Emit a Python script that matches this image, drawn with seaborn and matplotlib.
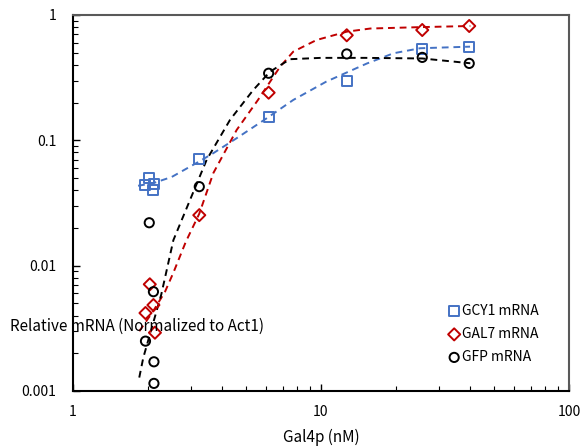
import matplotlib
matplotlib.use("Agg")
import matplotlib.pyplot as plt
import seaborn as sns
import pandas as pd
from matplotlib.ticker import LogLocator, NullFormatter, FixedLocator, FixedFormatter

# ---- data ----
gcy1_x = [2.03, 1.95, 2.12, 2.10, 3.23, 6.15, 12.7, 25.6, 39.6]
gcy1_y = [0.050, 0.044, 0.0448, 0.040, 0.071, 0.153, 0.297, 0.532, 0.558]

gal7_x = [2.04, 2.11, 1.96, 2.14, 3.23, 6.15, 12.7, 25.6, 39.6]
gal7_y = [0.0071, 0.00485, 0.00419, 0.00292, 0.0253, 0.240, 0.689, 0.759, 0.817]

gfp_x = [2.03, 2.11, 1.96, 2.12, 2.12, 3.23, 6.15, 12.7, 25.6, 39.6]
gfp_y = [0.0220, 0.0062, 0.0025, 0.00171, 0.00115, 0.0427, 0.343, 0.489, 0.459, 0.411]

# fitted (dashed) curves
gcy1_fit_x = [1.83, 2.11, 2.5, 3.15, 3.68, 4.57, 6.04, 7.73, 10.5, 15.3, 19.6, 25.1, 39.9]
gcy1_fit_y = [0.0434, 0.0456, 0.051, 0.066, 0.079, 0.104, 0.150, 0.210, 0.294, 0.41, 0.495, 0.543, 0.559]

gal7_fit_x = [1.85, 2.1, 2.35, 2.54, 2.85, 3.23, 3.68, 4.57, 5.57, 6.84, 7.73, 9.6, 12.7, 15.8, 25.0, 40.0]
gal7_fit_y = [0.0030, 0.0043, 0.0062, 0.0088, 0.0155, 0.026, 0.0548, 0.121, 0.210, 0.387, 0.510, 0.632, 0.736, 0.78, 0.80, 0.817]

gfp_fit_x = [1.85, 1.92, 2.27, 2.54, 3.46, 4.30, 5.33, 6.23, 7.5, 10.0, 15.0, 25.6, 40.0]
gfp_fit_y = [0.00128, 0.00184, 0.0059, 0.016, 0.070, 0.146, 0.252, 0.353, 0.444, 0.455, 0.455, 0.45, 0.412]

labels = ["GCY1 mRNA", "GAL7 mRNA", "GFP mRNA"]
colors = ["#4472C4", "#C00000", "#000000"]
markers = ["s", "D", "o"]
msizes = [52, 38, 44]

x_ticks = [1, 10, 100]
x_ticklabels = ["1", "10", "100"]
y_ticks = [0.001, 0.01, 0.1, 1]
y_ticklabels = ["0.001", "0.01", "0.1", "1"]

# ---- plot ----
sns.set_style("ticks")
plt.rcParams["font.family"] = ["Noto Sans CJK JP", "DejaVu Sans"]
plt.rcParams["font.size"] = 11
plt.rcParams["text.color"] = "black"
plt.rcParams["axes.labelcolor"] = "black"
plt.rcParams["xtick.color"] = "black"
plt.rcParams["ytick.color"] = "black"

fig = plt.figure(figsize=(5.8, 4.46), dpi=100)
ax = fig.add_axes([73/580, 1-391/446, (569-73)/580, (391-15)/446])

pts = [(gcy1_x, gcy1_y), (gal7_x, gal7_y), (gfp_x, gfp_y)]
fits = [(gcy1_fit_x, gcy1_fit_y), (gal7_fit_x, gal7_fit_y), (gfp_fit_x, gfp_fit_y)]

for (fx, fy), c in zip(fits, colors):
    df = pd.DataFrame({"x": fx, "y": fy})
    sns.lineplot(data=df, x="x", y="y", color=c, lw=1.4, ax=ax,
                 estimator=None, sort=False, legend=False,
                 dashes=False, linestyle=(0, (3.5, 2.5)), zorder=2)

for (px, py), c, m, s, lab in zip(pts, colors, markers, msizes, labels):
    df = pd.DataFrame({"x": px, "y": py})
    sns.scatterplot(data=df, x="x", y="y", marker=m, s=s, facecolor="none",
                    edgecolor=c, linewidth=1.4, ax=ax, label=lab, zorder=3)

ax.set_xscale("log")
ax.set_yscale("log")
ax.set_xlim(1, 100)
ax.set_ylim(0.001, 1)

ax.xaxis.set_major_locator(FixedLocator(x_ticks))
ax.xaxis.set_major_formatter(FixedFormatter(x_ticklabels))
ax.yaxis.set_major_locator(FixedLocator(y_ticks))
ax.yaxis.set_major_formatter(FixedFormatter(y_ticklabels))
ax.xaxis.set_minor_locator(LogLocator(base=10, subs=range(2, 10)))
ax.yaxis.set_minor_locator(LogLocator(base=10, subs=range(2, 10)))
ax.xaxis.set_minor_formatter(NullFormatter())
ax.yaxis.set_minor_formatter(NullFormatter())

ax.tick_params(which="major", direction="in", length=5, width=1, colors="black",
               labelsize=10)
ax.tick_params(which="minor", direction="in", length=3.5, width=0.8, colors="black")
ax.tick_params(axis="x", which="major", pad=10)
ax.tick_params(axis="y", which="major", pad=12)
ax.tick_params(top=False, right=False, which="both")

for side in ["left", "bottom"]:
    ax.spines[side].set_color("black")
    ax.spines[side].set_linewidth(1.5)
for side in ["top", "right"]:
    ax.spines[side].set_visible(True)
    ax.spines[side].set_color("#595959")
    ax.spines[side].set_linewidth(1.5)

ax.set_xlabel("Gal4p (nM)", fontsize=11, labelpad=7, color="black")
ax.set_ylabel("")
fig.text(10/580, 1-326/446, "Relative mRNA (Normalized to Act1)", fontsize=11,
         ha="left", va="center", color="black")

leg = ax.legend(loc="upper left", bbox_to_anchor=((450-73)/496, (391-304)/376),
                frameon=False, handlelength=0.6, handletextpad=0.3,
                labelspacing=0.65, borderpad=0, borderaxespad=0, fontsize=10)
for t in leg.get_texts():
    t.set_color("black")

fig.savefig("out.png", dpi=100)
